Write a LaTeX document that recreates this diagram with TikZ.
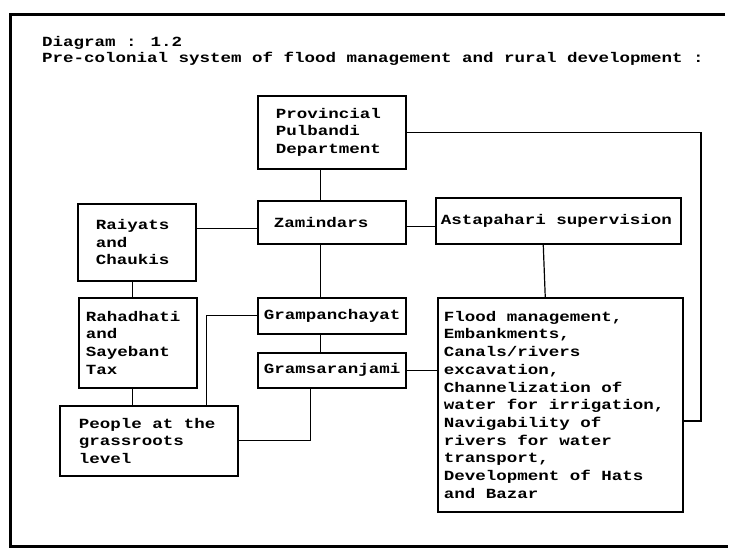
\documentclass[tikz,border=0pt]{standalone}
\usepackage{fontspec}
\usepackage{tikz}
\usepackage{xcolor}
\newfontfamily\dotfont{Liberation Mono}[FakeStretch=1.25, BoldFont={Liberation Mono Bold}]
\tikzset{
    plain-box/.style = {draw=black, line width=1.5pt, rectangle, anchor=north west, align=flush left, inner ysep=0pt},
    plain-link/.style = {draw=black, line width=1.2pt},
}

\begin{document}
\begin{tikzpicture}[x=1pt, y=-1pt, font=\dotfont\bfseries\fontsize{14}{17.7}\selectfont]
\useasboundingbox (0,0) rectangle (730,550);
% frame of the page
\draw[line width=3pt] (725,14) -- (10,14) -- (10,546) -- (728,546);
\node[anchor=north west, align=left, inner sep=0pt, font=\dotfont\bfseries\fontsize{14}{16}\selectfont] (title) at (42,36)
    {Diagram : 1.2\\Pre-colonial system of flood management and rural development :};

\node [plain-box, minimum width=148pt, minimum height=73pt, text width=112pt, inner xsep=18pt] (prov) at (257,95) {Provincial\\Pulbandi\\Department};
\node [plain-box, minimum width=148pt, minimum height=43pt, text width=116pt, inner xsep=16pt] (zam) at (257,200) {\raisebox{-5pt}{Zamindars}};
\node [plain-box, minimum width=245pt, minimum height=46pt, text width=235pt, inner xsep=5pt] (ast) at (435,197) {\raisebox{-4pt}{Astapahari supervision}};
\node [plain-box, minimum width=118pt, minimum height=77pt, text width=82pt, inner xsep=18pt] (rai) at (77,203) {Raiyats\\and\\Chaukis};
\node [plain-box, minimum width=118pt, minimum height=90pt, text width=104pt, inner xsep=7pt] (rah) at (78,297) {Rahadhati\\and\\Sayebant\\Tax};
\node [plain-box, minimum width=148pt, minimum height=36pt, text width=136pt, inner xsep=6pt] (gpan) at (257,297) {Grampanchayat};
\node [plain-box, minimum width=148pt, minimum height=35pt, text width=136pt, inner xsep=6pt] (gsar) at (257,352) {Gramsaranjami};
\node [plain-box, minimum width=178pt, minimum height=70pt, text width=140pt, inner xsep=19pt] (ppl) at (59,405) {People at the\\grassroots\\level};
\node [plain-box, minimum width=245pt, minimum height=214pt, text width=233pt, inner xsep=6pt] (flood) at (437,297)
    {Flood management,\\Embankments,\\Canals/rivers\\excavation,\\Channelization of\\water for irrigation,\\Navigability of\\rivers for water\\transport,\\Development of Hats\\and Bazar};

\coordinate (bend) at (701,421);
\draw[plain-link] ([xshift=-11pt]prov.south) -- ([xshift=-11pt]zam.north);
\draw[plain-link] ([yshift=-6pt]zam.west) -- ([yshift=-6pt]zam.west -| rai.east);
\draw[plain-link] ([yshift=-4pt]zam.east) -- ([yshift=-4pt]zam.east -| ast.west);
\draw[plain-link] ([xshift=-11pt]zam.south) -- ([xshift=-11pt]gpan.north);
\draw[plain-link] ([xshift=-11pt]gpan.south) -- ([xshift=-11pt]gsar.north);
\draw[plain-link] ([xshift=-15pt]ast.south) -- ([xshift=-15pt]flood.north);
\draw[plain-link] ([xshift=-4pt]rai.south) -- ([xshift=-5pt]rah.north);
\draw[plain-link] ([xshift=-5pt]rah.south) -- ([xshift=-5pt]rah.south |- ppl.north);
\draw[plain-link] (gpan.west) -| ([xshift=-32pt]ppl.north east);
\draw[plain-link] ([xshift=-21pt]gsar.south) |- (ppl.east);
\draw[plain-link] (gsar.east) -- (gsar.east -| flood.west);
\draw[plain-link] (prov.east) -| (bend) -- (bend -| flood.east);
\end{tikzpicture}
\end{document}
